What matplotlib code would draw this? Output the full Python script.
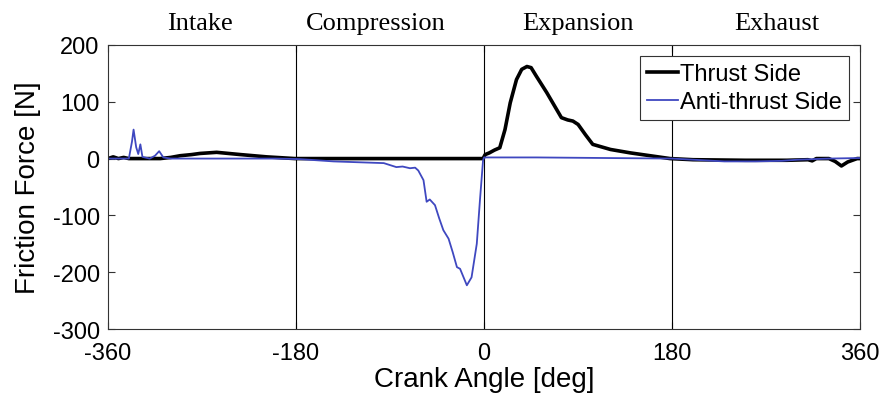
import numpy as np
from matplotlib import pyplot as plt

# crank angle [deg] and friction force [N]
thrust_deg = [-360, -355, -350, -345, -340, -330, -310, -300, -291, -280, -272, -256,
              -233, -208, -181, -90, -1, 1, 5, 10, 15, 20, 25, 31, 36, 41, 45, 50,
              60, 74, 80, 85, 90, 97, 104, 121, 140, 159, 178, 200, 250, 290, 310,
              314, 318, 330, 336, 342, 348, 357, 360]
thrust_force = [0, 3, 0, 2, 0, 0, 0, 2, 5, 7, 9, 11,
                7, 3, 0, 0, 0, 7, 10, 15, 19, 51, 98, 139, 157, 162, 160, 145,
                116, 72, 68, 66, 60, 42, 25, 16, 10, 5, 0, -2, -3, -3, -2,
                -4, 0, 0, -5, -13, -6, 0, 0]

anti_deg = [-360, -340, -337, -335.5, -333, -331, -329, -327, -320, -315, -311, -307,
            -300, -250, -200, -176, -144, -96, -84, -78, -71, -66, -63, -58, -55,
            -52, -50, -47, -43, -39, -34, -30, -26, -23, -16.5, -12, -7, -4, -1, 0,
            50, 180, 200, 230, 260, 285, 300, 330, 360]
anti_force = [0, 0, 30, 51, 20, 8, 25, 3, 0, 5, 13, 2,
              0, 0, 0, -1, -5, -8, -15, -14, -17, -16, -21, -38, -76,
              -72, -76, -82, -105, -126, -141, -165, -191, -194, -223, -209, -150, -74, -3, 2,
              2, 0, -2, -5, -5, -4, -2, 0, 1]

phases = ["Intake", "Compression", "Expansion", "Exhaust"]
phase_pos = [-272, -104, 90, 280]

plt.rcParams['font.family'] = ['Liberation Sans', 'DejaVu Sans']
plt.rcParams['axes.unicode_minus'] = False

fig = plt.figure(figsize=(8.85, 4.1), dpi=100)
ax = fig.add_axes([0.122, 0.195, 0.85, 0.693])

for xv in [-180, 0, 180]:
    ax.axvline(xv, color='black', lw=0.8)

ax.plot(thrust_deg, thrust_force, color='black', lw=2.6, label='Thrust Side')
ax.plot(anti_deg, anti_force, color='#3f48c0', lw=1.3, label='Anti-thrust Side')

ax.set_xlim(-360, 360)
ax.set_ylim(-300, 200)
ax.set_xticks([-360, -180, 0, 180, 360])
ax.set_yticks([-300, -200, -100, 0, 100, 200])
ax.tick_params(direction='in', top=True, right=True, labelsize=17, length=5,
               color='#333333')
ax.tick_params(axis='x', pad=9)
ax.tick_params(axis='y', pad=6)
for s in ax.spines.values():
    s.set_color('#333333')
    s.set_linewidth(0.8)

ax.set_xlabel("Crank Angle [deg]", fontsize=20, labelpad=2)
ax.set_ylabel("Friction Force [N]", fontsize=20, labelpad=8)

for name, xm in zip(phases, phase_pos):
    ax.annotate(name, xy=(xm, 1.0), xycoords=ax.get_xaxis_transform(),
                xytext=(0, 16), textcoords='offset points', ha='center',
                va='center', fontsize=19, family='Liberation Serif')

leg = ax.legend(loc='upper right', fontsize=17, fancybox=False, handlelength=1.3,
                handletextpad=0.1, borderpad=0.3, labelspacing=0.25,
                borderaxespad=0, bbox_to_anchor=(0.985, 0.96))
leg.get_frame().set_edgecolor('#333333')
leg.get_frame().set_linewidth(0.8)
leg.get_frame().set_alpha(1)

fig.savefig("out.png", dpi=100)
